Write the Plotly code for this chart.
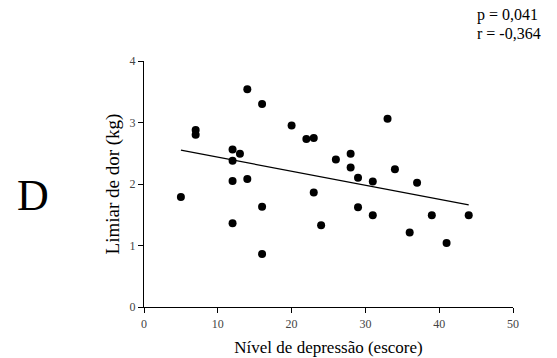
import plotly.graph_objects as go

depressao = [5, 7, 7, 12, 12, 12, 12, 13, 14, 14, 16, 16, 16, 20, 22, 23, 23, 24,
             26, 28, 28, 29, 29, 31, 31, 33, 34, 36, 37, 39, 41, 44]
limiar = [1.79, 2.88, 2.80, 2.56, 2.38, 2.05, 1.36, 2.49, 3.54, 2.08, 3.30, 1.63, 0.86,
          2.95, 2.73, 2.75, 1.86, 1.33, 2.40, 2.49, 2.27, 2.10, 1.62, 2.04, 1.49,
          3.06, 2.24, 1.21, 2.02, 1.49, 1.04, 1.49]
reg_x = [5, 44]
reg_y = [2.55, 1.66]
x_ticks = [0, 10, 20, 30, 40, 50]
y_ticks = [0, 1, 2, 3, 4]
stats_lines = ["p = 0,041", "r = -0,364"]

font = "Liberation Serif"

fig = go.Figure()
fig.add_trace(go.Scatter(x=reg_x, y=reg_y, mode="lines",
                         line=dict(color="black", width=1.2), hoverinfo="skip"))
fig.add_trace(go.Scatter(x=depressao, y=limiar, mode="markers",
                         marker=dict(color="black", size=8)))

fig.update_layout(
    width=557, height=358,
    margin=dict(l=144, r=44, t=61, b=51),
    paper_bgcolor="white", plot_bgcolor="white",
    showlegend=False,
    font=dict(family=font, color="black"),
    xaxis=dict(range=[0, 50], tickvals=x_ticks, showline=True, linecolor="black",
               linewidth=1.2, ticks="outside", ticklen=5, tickcolor="black",
               showgrid=False, zeroline=False, automargin=False,
               tickfont=dict(family=font, size=12, color="#444"),
               title=dict(text="Nível de depressão (escore)", font=dict(family=font, size=17),
                          standoff=11)),
    yaxis=dict(range=[0, 4], tickvals=y_ticks, showline=True, linecolor="black",
               linewidth=1.2, ticks="outside", ticklen=5, tickcolor="black",
               showgrid=False, zeroline=False, automargin=False,
               tickfont=dict(family=font, size=12, color="#444"),
               title=dict(text="Limiar de dor (kg)", font=dict(family=font, size=19),
                          standoff=4)),
)

fig.add_annotation(text="D", xref="paper", yref="paper", x=-0.301, y=0.453,
                   showarrow=False, font=dict(family=font, size=44, color="black"),
                   xanchor="center", yanchor="middle")
for i, line in enumerate(stats_lines):
    fig.add_annotation(text=line, xref="paper", yref="paper",
                       x=0.897, y=1.185 - i * 0.075, showarrow=False, align="left",
                       xanchor="left", yanchor="middle",
                       font=dict(family=font, size=16, color="black"))

fig.write_html("out.html")
